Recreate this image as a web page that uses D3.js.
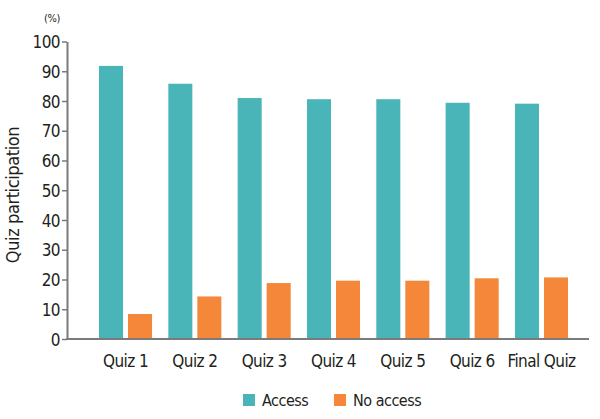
<!DOCTYPE html>
<html><head><meta charset="utf-8">
<script src="https://cdn.jsdelivr.net/npm/d3@7"></script>
<style>
body{margin:0;background:#fff;}
text{font-family:"Liberation Sans Narrow","DejaVu Sans Condensed","Roboto",sans-serif;fill:#231f20;}
</style></head><body>
<svg id="c" width="600" height="419"></svg>
<script>
const categories = ["Quiz 1","Quiz 2","Quiz 3","Quiz 4","Quiz 5","Quiz 6","Final Quiz"];
const seriesNames = ["Access","No access"];
const accessValues = [91.8, 85.8, 81.0, 80.6, 80.6, 79.4, 79.1];
const noAccessValues = [8.4, 14.3, 18.8, 19.6, 19.6, 20.4, 20.7];
const yTicks = [0,10,20,30,40,50,60,70,80,90,100];
const colors = ["#4ab5b8","#f5873b"];

const FONT = '"Liberation Sans Narrow","DejaVu Sans Condensed",sans-serif';
const svg = d3.select("#c");
const y = d3.scaleLinear().domain([0,100]).range([339,41.5]);
const x0 = d3.scaleBand().domain(categories).range([99,568]).paddingInner(0.235).paddingOuter(0);
const x1 = d3.scaleBand().domain(seriesNames).range([0,x0.bandwidth()]).paddingInner(0.172);
const color = d3.scaleOrdinal().domain(seriesNames).range(colors);

const data = categories.map((c,i)=>({cat:c, vals:[{k:"Access",v:accessValues[i]},{k:"No access",v:noAccessValues[i]}]}));

const g = svg.append("g");
g.selectAll("g.grp").data(data).join("g").attr("class","grp")
 .attr("transform",d=>`translate(${x0(d.cat)},0)`)
 .selectAll("rect").data(d=>d.vals).join("rect")
 .attr("x",d=>x1(d.k)).attr("width",x1.bandwidth())
 .attr("y",d=>y(d.v)).attr("height",d=>y(0)-y(d.v))
 .attr("fill",d=>color(d.k));

// y axis
const yAxis = svg.append("g").attr("transform","translate(67,0)")
 .call(d3.axisLeft(y).tickValues(yTicks).tickSize(5).tickPadding(2).tickSizeOuter(0));
yAxis.select(".domain").attr("stroke","#7b7b7b").attr("stroke-width",2);
yAxis.selectAll(".tick line").attr("stroke","#7b7b7b").attr("stroke-width",1.5);
yAxis.selectAll(".tick text").attr("font-size",17).attr("fill","#231f20").attr("dy","0.36em")
 .attr("letter-spacing","-0.6").style("font-family",FONT);

// x axis baseline
const xAxis = svg.append("g").attr("transform",`translate(0,${y(0)})`)
 .call(d3.axisBottom(x0).tickSize(0).tickPadding(16));
xAxis.select(".domain").attr("d",`M66,0H589`).attr("stroke","#7b7b7b").attr("stroke-width",2);
xAxis.selectAll(".tick text").attr("font-size",17).attr("fill","#231f20")
 .attr("letter-spacing","-0.6").style("font-family",FONT);

// unit label
svg.append("text").attr("x",52).attr("y",22).attr("text-anchor","middle").attr("font-size",11)
 .attr("letter-spacing","-0.3").text("(%)");

// y title
svg.append("text").attr("transform","translate(19,195) rotate(-90)").attr("text-anchor","middle")
 .attr("font-size",18).attr("letter-spacing","-0.4").text("Quiz participation");

// legend
const legendX = [243,334];
const lg = svg.append("g").selectAll("g").data(seriesNames).join("g")
 .attr("transform",(d,i)=>`translate(${legendX[i]},394)`);
lg.append("rect").attr("width",12).attr("height",12).attr("fill",d=>color(d));
lg.append("text").attr("x",19).attr("y",12).attr("font-size",16).attr("letter-spacing","-0.5").text(d=>d);
</script>
</body></html>
